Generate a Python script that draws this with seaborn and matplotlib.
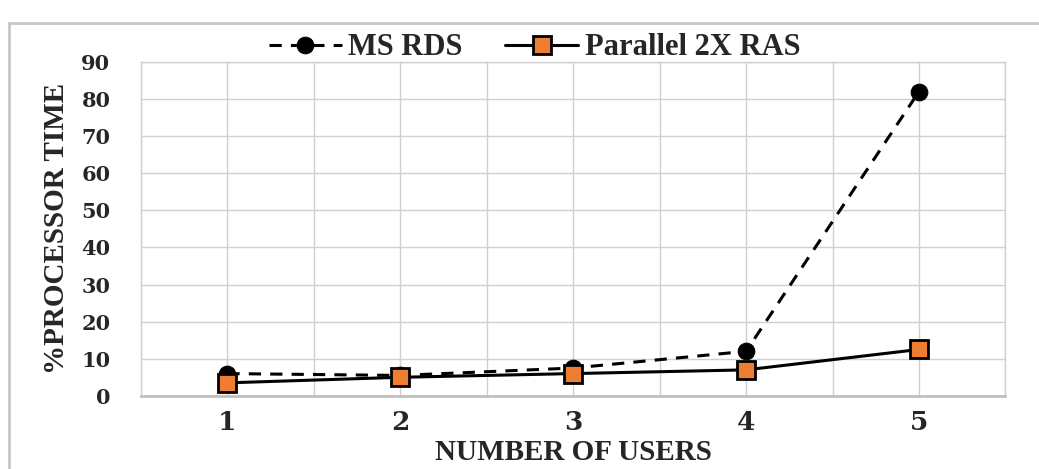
import matplotlib
matplotlib.use("Agg")
import matplotlib.pyplot as plt
import seaborn as sns
import pandas as pd
from matplotlib.patches import Rectangle

users = [1, 2, 3, 4, 5]
ms_rds = [6, 5.5, 7.5, 12, 82]
parallel_ras = [3.5, 5, 6, 7, 12.5]
yticks = [0, 10, 20, 30, 40, 50, 60, 70, 80, 90]

sns.set_style("white")
plt.rcParams['font.family'] = ['Liberation Serif', 'DejaVu Serif']
plt.rcParams['font.weight'] = 'bold'

df = pd.DataFrame({"users": users + users,
                   "value": ms_rds + parallel_ras,
                   "series": ["MS RDS"] * 5 + ["Parallel 2X RAS"] * 5})

fig = plt.figure(figsize=(10.39, 4.69), dpi=100)
ax = fig.add_axes([0.1357, 0.156, 0.832, 0.712])

fig.patches.append(Rectangle((0.009, -0.1), 1.1, 1.05, transform=fig.transFigure,
                             fill=False, edgecolor='#c8c8c8', linewidth=2))

d1 = df[df.series == "MS RDS"]
d2 = df[df.series == "Parallel 2X RAS"]
sns.lineplot(data=d1, x="users", y="value", ax=ax, color='black', linewidth=2.2,
             linestyle=(0, (4, 3)), marker='o', markersize=12, markerfacecolor='black',
             markeredgecolor='black', label="MS RDS", zorder=3)
sns.lineplot(data=d2, x="users", y="value", ax=ax, color='black', linewidth=2.2,
             marker='s', markersize=13, markerfacecolor='#ED7D31',
             markeredgecolor='black', markeredgewidth=2, label="Parallel 2X RAS", zorder=4)

ax.set_xlim(0.5, 5.5)
ax.set_ylim(0, 90)
ax.set_yticks(yticks)
ax.set_xticks(users)
ax.set_xticks([0.5 + i for i in range(6)], minor=True)
ax.grid(True, which='both', axis='x', color='#d0d0d0', linewidth=1)
ax.grid(True, which='major', axis='y', color='#d0d0d0', linewidth=1)
ax.set_axisbelow(True)
ax.tick_params(axis='both', which='both', length=0)
ax.tick_params(axis='x', pad=10)
ax.tick_params(axis='y', pad=22)
for lab in ax.get_xticklabels():
    lab.set_fontfamily('DejaVu Serif')
    lab.set_fontweight('bold')
    lab.set_fontsize(19)
for lab in ax.get_yticklabels():
    lab.set_fontfamily('DejaVu Serif')
    lab.set_fontweight('bold')
    lab.set_fontsize(15)
for s in ['top', 'right', 'left']:
    ax.spines[s].set_color('#d0d0d0')
    ax.spines[s].set_linewidth(1)
ax.spines['bottom'].set_color('#c0c0c0')
ax.spines['bottom'].set_linewidth(2)

ax.set_xlabel("NUMBER OF USERS", fontsize=21, fontweight='bold', labelpad=3)
ax.set_ylabel("%PROCESSOR TIME", fontsize=21, fontweight='bold', labelpad=8)

ax.legend(loc='lower center', bbox_to_anchor=(0.455, 0.962), ncol=2, frameon=False,
          handlelength=2.4, handletextpad=0.2, columnspacing=1.4, borderaxespad=0.0,
          prop={'weight': 'bold', 'size': 22})

fig.savefig("out.png", dpi=100)
